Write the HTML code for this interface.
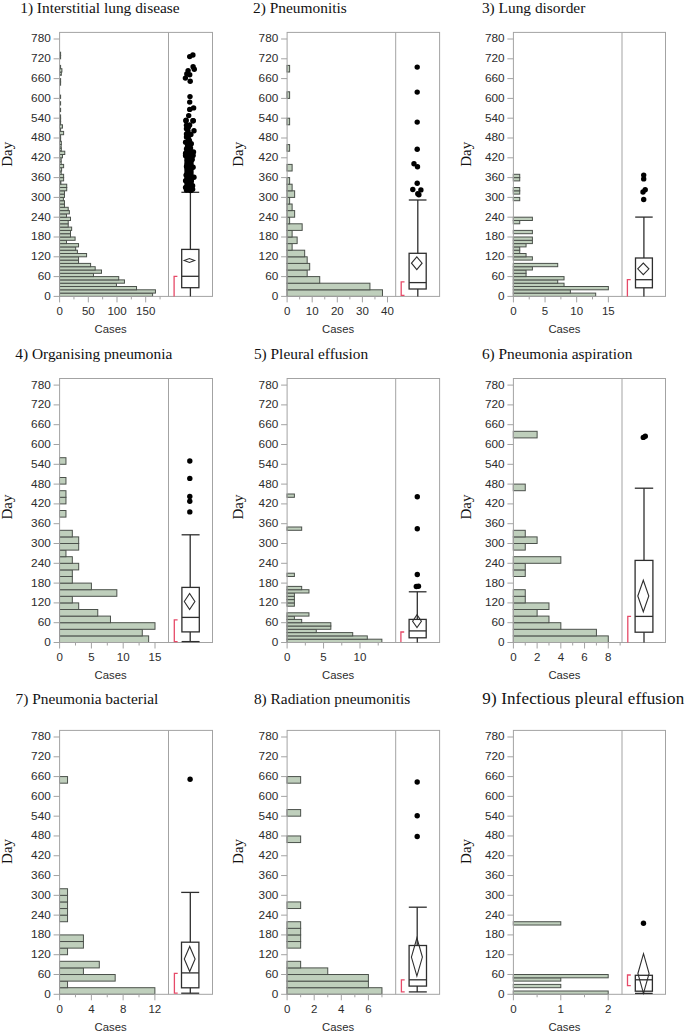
<!DOCTYPE html>
<html><head><meta charset="utf-8"><style>
html,body{margin:0;padding:0;background:#fff;width:685px;height:1034px;overflow:hidden}
svg{display:block}
.bar{fill:#bfcfbc;stroke:#4b514b;stroke-width:1}
.frame{fill:none;stroke:#a3a3a3;stroke-width:1}
.tick{stroke:#a3a3a3;stroke-width:1}
.yl{font-family:"Liberation Sans",sans-serif;font-size:11.8px;fill:#2c2c2c;text-anchor:end}
.xl{font-family:"Liberation Sans",sans-serif;font-size:11.5px;fill:#2c2c2c;text-anchor:middle}
.cases{font-family:"Liberation Sans",sans-serif;font-size:11.3px;fill:#2c2c2c;text-anchor:middle}
.title{font-family:"Liberation Serif",serif;fill:#111}
.day{font-family:"Liberation Serif",serif;font-size:15px;fill:#111;text-anchor:middle}
.bx{fill:none;stroke:#2e2e2e;stroke-width:1.3}
.dm{fill:none;stroke:#2e2e2e;stroke-width:1.1}
.rb{fill:none;stroke:#e64a68;stroke-width:1.3}
.pt{fill:#000}
</style></head><body>
<svg width="685" height="1034" viewBox="0 0 685 1034">
<g><rect x="59.5" y="293.1" width="93.09" height="3.3" class="bar"/><rect x="59.5" y="289.8" width="95.96" height="3.3" class="bar"/><rect x="59.5" y="286.5" width="77.02" height="3.3" class="bar"/><rect x="59.5" y="283.2" width="56.93" height="3.3" class="bar"/><rect x="59.5" y="279.9" width="64.96" height="3.3" class="bar"/><rect x="59.5" y="276.6" width="59.22" height="3.3" class="bar"/><rect x="59.5" y="273.3" width="33.97" height="3.3" class="bar"/><rect x="59.5" y="270" width="42" height="3.3" class="bar"/><rect x="59.5" y="266.7" width="35.69" height="3.3" class="bar"/><rect x="59.5" y="263.4" width="31.1" height="3.3" class="bar"/><rect x="59.5" y="260.1" width="19.04" height="3.3" class="bar"/><rect x="59.5" y="256.8" width="19.04" height="3.3" class="bar"/><rect x="59.5" y="253.5" width="27.08" height="3.3" class="bar"/><rect x="59.5" y="250.2" width="17.89" height="3.3" class="bar"/><rect x="59.5" y="246.9" width="16.17" height="3.3" class="bar"/><rect x="59.5" y="243.6" width="19.04" height="3.3" class="bar"/><rect x="59.5" y="240.3" width="6.99" height="3.3" class="bar"/><rect x="59.5" y="237" width="15.6" height="3.3" class="bar"/><rect x="59.5" y="233.7" width="11.01" height="3.3" class="bar"/><rect x="59.5" y="230.4" width="11.01" height="3.3" class="bar"/><rect x="59.5" y="227.1" width="12.15" height="3.3" class="bar"/><rect x="59.5" y="223.8" width="8.71" height="3.3" class="bar"/><rect x="59.5" y="220.5" width="8.71" height="3.3" class="bar"/><rect x="59.5" y="217.2" width="11.01" height="3.3" class="bar"/><rect x="59.5" y="213.9" width="6.99" height="3.3" class="bar"/><rect x="59.5" y="210.6" width="9.86" height="3.3" class="bar"/><rect x="59.5" y="207.3" width="8.71" height="3.3" class="bar"/><rect x="59.5" y="204" width="4.98" height="3.3" class="bar"/><rect x="59.5" y="200.7" width="4.98" height="3.3" class="bar"/><rect x="59.5" y="197.4" width="3.89" height="3.3" class="bar"/><rect x="59.5" y="194.1" width="4.98" height="3.3" class="bar"/><rect x="59.5" y="190.8" width="4.98" height="3.3" class="bar"/><rect x="59.5" y="187.5" width="7.22" height="3.3" class="bar"/><rect x="59.5" y="184.2" width="7.22" height="3.3" class="bar"/><rect x="60" y="180.9" width="0.86" height="3.3" class="bar"/><rect x="59.5" y="177.6" width="4.12" height="3.3" class="bar"/><rect x="59.5" y="174.3" width="4.12" height="3.3" class="bar"/><rect x="60" y="171" width="1.15" height="3.3" class="bar"/><rect x="59.5" y="167.7" width="2.11" height="3.3" class="bar"/><rect x="59.5" y="164.4" width="4.12" height="3.3" class="bar"/><rect x="60" y="161.1" width="1.15" height="3.3" class="bar"/><rect x="60" y="157.8" width="1.15" height="3.3" class="bar"/><rect x="59.5" y="154.5" width="2.97" height="3.3" class="bar"/><rect x="59.5" y="151.2" width="5.27" height="3.3" class="bar"/><rect x="59.5" y="147.9" width="1.82" height="3.3" class="bar"/><rect x="60" y="144.6" width="1.15" height="3.3" class="bar"/><rect x="59.5" y="141.3" width="1.82" height="3.3" class="bar"/><rect x="60" y="138" width="0.6" height="3.3" class="bar"/><rect x="60" y="134.7" width="0.6" height="3.3" class="bar"/><rect x="59.5" y="131.4" width="4.12" height="3.3" class="bar"/><rect x="60" y="128.1" width="0.6" height="3.3" class="bar"/><rect x="59.5" y="124.8" width="2.97" height="3.3" class="bar"/><rect x="60" y="121.5" width="0.6" height="3.3" class="bar"/><rect x="60" y="118.2" width="0.6" height="3.3" class="bar"/><rect x="60" y="114.9" width="0.6" height="3.3" class="bar"/><rect x="60" y="108.3" width="0.6" height="3.3" class="bar"/><rect x="60" y="101.7" width="0.6" height="3.3" class="bar"/><rect x="60" y="95.1" width="0.6" height="3.3" class="bar"/><rect x="60" y="81.9" width="0.6" height="3.3" class="bar"/><rect x="60" y="78.6" width="0.6" height="3.3" class="bar"/><rect x="59.5" y="72" width="1.82" height="3.3" class="bar"/><rect x="59.5" y="68.7" width="2.4" height="3.3" class="bar"/><rect x="60" y="65.4" width="0.6" height="3.3" class="bar"/><rect x="60" y="55.5" width="0.6" height="3.3" class="bar"/><rect x="60" y="52.2" width="0.6" height="3.3" class="bar"/><rect x="59.6" y="32.4" width="152.9" height="264" class="frame"/><line x1="168.5" y1="32.4" x2="168.5" y2="296.4" class="frame"/><line x1="53.6" y1="296.4" x2="59.6" y2="296.4" class="tick"/><text x="50.8" y="299.8" class="yl">0</text><line x1="53.6" y1="276.6" x2="59.6" y2="276.6" class="tick"/><text x="50.8" y="280" class="yl">60</text><line x1="53.6" y1="256.8" x2="59.6" y2="256.8" class="tick"/><text x="50.8" y="260.2" class="yl">120</text><line x1="53.6" y1="237" x2="59.6" y2="237" class="tick"/><text x="50.8" y="240.4" class="yl">180</text><line x1="53.6" y1="217.2" x2="59.6" y2="217.2" class="tick"/><text x="50.8" y="220.6" class="yl">240</text><line x1="53.6" y1="197.4" x2="59.6" y2="197.4" class="tick"/><text x="50.8" y="200.8" class="yl">300</text><line x1="53.6" y1="177.6" x2="59.6" y2="177.6" class="tick"/><text x="50.8" y="181" class="yl">360</text><line x1="53.6" y1="157.8" x2="59.6" y2="157.8" class="tick"/><text x="50.8" y="161.2" class="yl">420</text><line x1="53.6" y1="138" x2="59.6" y2="138" class="tick"/><text x="50.8" y="141.4" class="yl">480</text><line x1="53.6" y1="118.2" x2="59.6" y2="118.2" class="tick"/><text x="50.8" y="121.6" class="yl">540</text><line x1="53.6" y1="98.4" x2="59.6" y2="98.4" class="tick"/><text x="50.8" y="101.8" class="yl">600</text><line x1="53.6" y1="78.6" x2="59.6" y2="78.6" class="tick"/><text x="50.8" y="82" class="yl">660</text><line x1="53.6" y1="58.8" x2="59.6" y2="58.8" class="tick"/><text x="50.8" y="62.2" class="yl">720</text><line x1="53.6" y1="39" x2="59.6" y2="39" class="tick"/><text x="50.8" y="42.4" class="yl">780</text><line x1="59.6" y1="296.4" x2="59.6" y2="302.4" class="tick"/><text x="59.6" y="314.7" class="xl">0</text><line x1="88.3" y1="296.4" x2="88.3" y2="302.4" class="tick"/><text x="88.3" y="314.7" class="xl">50</text><line x1="117" y1="296.4" x2="117" y2="302.4" class="tick"/><text x="117" y="314.7" class="xl">100</text><line x1="145.7" y1="296.4" x2="145.7" y2="302.4" class="tick"/><text x="145.7" y="314.7" class="xl">150</text><line x1="73.95" y1="296.4" x2="73.95" y2="299.4" class="tick"/><line x1="102.65" y1="296.4" x2="102.65" y2="299.4" class="tick"/><line x1="131.35" y1="296.4" x2="131.35" y2="299.4" class="tick"/><line x1="160.05" y1="296.4" x2="160.05" y2="299.4" class="tick"/><text x="110.6" y="332.8" class="cases">Cases</text><text x="20.2" y="13.4" class="title" style="font-size:15.4px">1) Interstitial lung disease</text><text transform="translate(11.9,154.3) rotate(-90)" class="day">Day</text><line x1="190.4" y1="192.3" x2="190.4" y2="249.4" class="bx"/><line x1="181.4" y1="192.3" x2="199.2" y2="192.3" class="bx"/><line x1="190.4" y1="287.7" x2="190.4" y2="296.4" class="bx"/><rect x="181.7" y="249.4" width="17.2" height="38.3" class="bx"/><line x1="181.7" y1="276.3" x2="198.9" y2="276.3" class="bx"/><path d="M184.2 260.5L189.4 258.5L194.6 260.5L189.4 262.5Z" class="dm"/><path d="M177.4 276.4H174.1V296.4" class="rb"/><circle cx="189.7" cy="56.6" r="2.7" class="pt"/><circle cx="192.9" cy="55" r="2.7" class="pt"/><circle cx="193.1" cy="66.8" r="2.7" class="pt"/><circle cx="194.3" cy="69.2" r="2.7" class="pt"/><circle cx="188.1" cy="70.6" r="2.7" class="pt"/><circle cx="186.8" cy="74" r="2.7" class="pt"/><circle cx="189.7" cy="74.7" r="2.7" class="pt"/><circle cx="185.4" cy="78.1" r="2.7" class="pt"/><circle cx="190.2" cy="81.3" r="2.7" class="pt"/><circle cx="190" cy="96.6" r="2.7" class="pt"/><circle cx="189.7" cy="102.1" r="2.7" class="pt"/><circle cx="189.7" cy="109.4" r="2.7" class="pt"/><circle cx="193.6" cy="107.9" r="2.7" class="pt"/><circle cx="188.7" cy="115.6" r="2.7" class="pt"/><circle cx="186.1" cy="120.2" r="2.7" class="pt"/><circle cx="192.9" cy="120.7" r="2.7" class="pt"/><circle cx="185.9" cy="120.7" r="2.7" class="pt"/><circle cx="193.3" cy="120.7" r="2.7" class="pt"/><circle cx="186.5" cy="125.3" r="2.7" class="pt"/><circle cx="189.6" cy="125" r="2.7" class="pt"/><circle cx="186.5" cy="128.8" r="2.7" class="pt"/><circle cx="194" cy="130.7" r="2.7" class="pt"/><circle cx="186.5" cy="134" r="2.7" class="pt"/><circle cx="190.9" cy="134.5" r="2.7" class="pt"/><circle cx="188.7" cy="139.3" r="2.7" class="pt"/><circle cx="185.6" cy="142.3" r="2.7" class="pt"/><circle cx="191.3" cy="143.7" r="2.7" class="pt"/><circle cx="187.8" cy="145.4" r="2.7" class="pt"/><circle cx="186.5" cy="148.9" r="2.7" class="pt"/><circle cx="190.5" cy="148" r="2.7" class="pt"/><circle cx="193.5" cy="152" r="2.7" class="pt"/><circle cx="185.6" cy="153.3" r="2.7" class="pt"/><circle cx="189.1" cy="153.3" r="2.7" class="pt"/><circle cx="185.6" cy="155" r="2.7" class="pt"/><circle cx="192.2" cy="155.2" r="2.7" class="pt"/><circle cx="187" cy="155.9" r="2.7" class="pt"/><circle cx="185.6" cy="155.7" r="2.7" class="pt"/><circle cx="193.1" cy="155.4" r="2.7" class="pt"/><circle cx="192.2" cy="159.4" r="2.7" class="pt"/><circle cx="190.5" cy="161.6" r="2.7" class="pt"/><circle cx="186.5" cy="166.4" r="2.7" class="pt"/><circle cx="193.1" cy="167.3" r="2.7" class="pt"/><circle cx="190" cy="169.5" r="2.7" class="pt"/><circle cx="189.6" cy="172.5" r="2.7" class="pt"/><circle cx="186.1" cy="175.1" r="2.7" class="pt"/><circle cx="194" cy="177.3" r="2.7" class="pt"/><circle cx="189.1" cy="176.9" r="2.7" class="pt"/><circle cx="185.6" cy="180.8" r="2.7" class="pt"/><circle cx="191.3" cy="180.8" r="2.7" class="pt"/><circle cx="192.6" cy="185.7" r="2.7" class="pt"/><circle cx="185.6" cy="187.4" r="2.7" class="pt"/><circle cx="189.1" cy="188.3" r="2.7" class="pt"/><circle cx="192.6" cy="189.2" r="2.7" class="pt"/><circle cx="186.5" cy="190" r="2.7" class="pt"/><circle cx="189.5" cy="185" r="2.7" class="pt"/><circle cx="188.5" cy="182" r="2.7" class="pt"/><circle cx="188" cy="164" r="2.7" class="pt"/><circle cx="189" cy="178.5" r="2.7" class="pt"/><circle cx="190" cy="150.5" r="2.7" class="pt"/><circle cx="188" cy="131" r="2.7" class="pt"/><circle cx="186.5" cy="137" r="2.7" class="pt"/><circle cx="188.5" cy="189.5" r="2.7" class="pt"/><circle cx="190.5" cy="190.5" r="2.7" class="pt"/><circle cx="187" cy="158" r="2.7" class="pt"/><circle cx="191" cy="159.1" r="2.7" class="pt"/><circle cx="187" cy="160.6" r="2.7" class="pt"/><circle cx="191" cy="161.7" r="2.7" class="pt"/><circle cx="187" cy="163.2" r="2.7" class="pt"/><circle cx="191" cy="164.3" r="2.7" class="pt"/><circle cx="187" cy="165.8" r="2.7" class="pt"/><circle cx="191" cy="166.9" r="2.7" class="pt"/><circle cx="187" cy="168.4" r="2.7" class="pt"/><circle cx="191" cy="169.5" r="2.7" class="pt"/><circle cx="187" cy="171" r="2.7" class="pt"/><circle cx="191" cy="172.1" r="2.7" class="pt"/><circle cx="187" cy="173.6" r="2.7" class="pt"/><circle cx="191" cy="174.7" r="2.7" class="pt"/><circle cx="187" cy="176.2" r="2.7" class="pt"/><circle cx="191" cy="177.3" r="2.7" class="pt"/><circle cx="187" cy="178.8" r="2.7" class="pt"/><circle cx="191" cy="179.9" r="2.7" class="pt"/><circle cx="187" cy="181.4" r="2.7" class="pt"/><circle cx="191" cy="182.5" r="2.7" class="pt"/><circle cx="187" cy="184" r="2.7" class="pt"/><circle cx="191" cy="185.1" r="2.7" class="pt"/><circle cx="187" cy="186.6" r="2.7" class="pt"/><circle cx="191" cy="187.7" r="2.7" class="pt"/><circle cx="187" cy="189.2" r="2.7" class="pt"/><circle cx="191" cy="190.3" r="2.7" class="pt"/><circle cx="188.5" cy="127" r="2.7" class="pt"/><circle cx="188" cy="136.5" r="2.7" class="pt"/><circle cx="189.5" cy="141" r="2.7" class="pt"/><circle cx="188.5" cy="150.5" r="2.7" class="pt"/><circle cx="187.5" cy="146.5" r="2.7" class="pt"/><circle cx="191.5" cy="152.5" r="2.7" class="pt"/><circle cx="187.5" cy="160.5" r="2.7" class="pt"/><circle cx="188.5" cy="157.5" r="2.7" class="pt"/></g>
<g><rect x="287" y="289.8" width="95.48" height="6.6" class="bar"/><rect x="287" y="283.2" width="82.93" height="6.6" class="bar"/><rect x="287" y="276.6" width="32.73" height="6.6" class="bar"/><rect x="287" y="270" width="20.18" height="6.6" class="bar"/><rect x="287" y="263.4" width="22.69" height="6.6" class="bar"/><rect x="287" y="256.8" width="20.18" height="6.6" class="bar"/><rect x="287" y="250.2" width="17.67" height="6.6" class="bar"/><rect x="287" y="243.6" width="5.12" height="6.6" class="bar"/><rect x="287" y="237" width="10.14" height="6.6" class="bar"/><rect x="287" y="230.4" width="5.12" height="6.6" class="bar"/><rect x="287" y="223.8" width="15.16" height="6.6" class="bar"/><rect x="287" y="217.2" width="2.61" height="6.6" class="bar"/><rect x="287" y="210.6" width="7.63" height="6.6" class="bar"/><rect x="287" y="204" width="5.12" height="6.6" class="bar"/><rect x="287" y="197.4" width="2.61" height="6.6" class="bar"/><rect x="287" y="190.8" width="7.63" height="6.6" class="bar"/><rect x="287" y="184.2" width="5.12" height="6.6" class="bar"/><rect x="287" y="177.6" width="2.61" height="6.6" class="bar"/><rect x="287" y="164.4" width="5.12" height="6.6" class="bar"/><rect x="287" y="144.6" width="2.61" height="6.6" class="bar"/><rect x="287" y="118.2" width="2.61" height="6.6" class="bar"/><rect x="287" y="91.8" width="2.61" height="6.6" class="bar"/><rect x="287" y="65.4" width="2.61" height="6.6" class="bar"/><rect x="287.1" y="32.4" width="152.5" height="264" class="frame"/><line x1="395.7" y1="32.4" x2="395.7" y2="296.4" class="frame"/><line x1="281.1" y1="296.4" x2="287.1" y2="296.4" class="tick"/><text x="278.3" y="299.8" class="yl">0</text><line x1="281.1" y1="276.6" x2="287.1" y2="276.6" class="tick"/><text x="278.3" y="280" class="yl">60</text><line x1="281.1" y1="256.8" x2="287.1" y2="256.8" class="tick"/><text x="278.3" y="260.2" class="yl">120</text><line x1="281.1" y1="237" x2="287.1" y2="237" class="tick"/><text x="278.3" y="240.4" class="yl">180</text><line x1="281.1" y1="217.2" x2="287.1" y2="217.2" class="tick"/><text x="278.3" y="220.6" class="yl">240</text><line x1="281.1" y1="197.4" x2="287.1" y2="197.4" class="tick"/><text x="278.3" y="200.8" class="yl">300</text><line x1="281.1" y1="177.6" x2="287.1" y2="177.6" class="tick"/><text x="278.3" y="181" class="yl">360</text><line x1="281.1" y1="157.8" x2="287.1" y2="157.8" class="tick"/><text x="278.3" y="161.2" class="yl">420</text><line x1="281.1" y1="138" x2="287.1" y2="138" class="tick"/><text x="278.3" y="141.4" class="yl">480</text><line x1="281.1" y1="118.2" x2="287.1" y2="118.2" class="tick"/><text x="278.3" y="121.6" class="yl">540</text><line x1="281.1" y1="98.4" x2="287.1" y2="98.4" class="tick"/><text x="278.3" y="101.8" class="yl">600</text><line x1="281.1" y1="78.6" x2="287.1" y2="78.6" class="tick"/><text x="278.3" y="82" class="yl">660</text><line x1="281.1" y1="58.8" x2="287.1" y2="58.8" class="tick"/><text x="278.3" y="62.2" class="yl">720</text><line x1="281.1" y1="39" x2="287.1" y2="39" class="tick"/><text x="278.3" y="42.4" class="yl">780</text><line x1="287.1" y1="296.4" x2="287.1" y2="302.4" class="tick"/><text x="287.1" y="314.7" class="xl">0</text><line x1="312.2" y1="296.4" x2="312.2" y2="302.4" class="tick"/><text x="312.2" y="314.7" class="xl">10</text><line x1="337.3" y1="296.4" x2="337.3" y2="302.4" class="tick"/><text x="337.3" y="314.7" class="xl">20</text><line x1="362.4" y1="296.4" x2="362.4" y2="302.4" class="tick"/><text x="362.4" y="314.7" class="xl">30</text><line x1="387.5" y1="296.4" x2="387.5" y2="302.4" class="tick"/><text x="387.5" y="314.7" class="xl">40</text><line x1="299.65" y1="296.4" x2="299.65" y2="299.4" class="tick"/><line x1="324.75" y1="296.4" x2="324.75" y2="299.4" class="tick"/><line x1="349.85" y1="296.4" x2="349.85" y2="299.4" class="tick"/><line x1="374.95" y1="296.4" x2="374.95" y2="299.4" class="tick"/><text x="338.1" y="332.8" class="cases">Cases</text><text x="253.1" y="13.4" class="title" style="font-size:15.4px">2) Pneumonitis</text><text transform="translate(242.9,154.3) rotate(-90)" class="day">Day</text><line x1="417.8" y1="200" x2="417.8" y2="253.3" class="bx"/><line x1="408.8" y1="200" x2="426.5" y2="200" class="bx"/><line x1="417.8" y1="289" x2="417.8" y2="296.4" class="bx"/><rect x="409.1" y="253.3" width="17.1" height="35.7" class="bx"/><line x1="409.1" y1="282.6" x2="426.2" y2="282.6" class="bx"/><path d="M411.5 263.2L416.8 256.8L422.1 263.2L416.8 269.6Z" class="dm"/><path d="M404.5 281.8H401.2V295.4H404.5" class="rb"/><circle cx="417.2" cy="67.1" r="2.7" class="pt"/><circle cx="417.2" cy="92.1" r="2.7" class="pt"/><circle cx="417.2" cy="122.1" r="2.7" class="pt"/><circle cx="417.2" cy="149.3" r="2.7" class="pt"/><circle cx="414" cy="163.8" r="2.7" class="pt"/><circle cx="417.5" cy="166.7" r="2.7" class="pt"/><circle cx="417.2" cy="183.2" r="2.7" class="pt"/><circle cx="412.8" cy="189.5" r="2.7" class="pt"/><circle cx="420.9" cy="189.9" r="2.7" class="pt"/><circle cx="417.8" cy="193.7" r="2.7" class="pt"/><circle cx="418.9" cy="194.8" r="2.7" class="pt"/></g>
<g><rect x="513.3" y="293.1" width="82.39" height="3.3" class="bar"/><rect x="513.3" y="289.8" width="57.07" height="3.3" class="bar"/><rect x="513.3" y="286.5" width="95.05" height="3.3" class="bar"/><rect x="513.3" y="283.2" width="50.74" height="3.3" class="bar"/><rect x="513.3" y="279.9" width="44.41" height="3.3" class="bar"/><rect x="513.3" y="276.6" width="50.74" height="3.3" class="bar"/><rect x="513.3" y="273.3" width="12.76" height="3.3" class="bar"/><rect x="513.3" y="270" width="12.76" height="3.3" class="bar"/><rect x="513.3" y="266.7" width="19.09" height="3.3" class="bar"/><rect x="513.3" y="263.4" width="44.41" height="3.3" class="bar"/><rect x="513.3" y="256.8" width="19.09" height="3.3" class="bar"/><rect x="513.3" y="253.5" width="12.76" height="3.3" class="bar"/><rect x="513.3" y="250.2" width="6.43" height="3.3" class="bar"/><rect x="513.3" y="246.9" width="6.43" height="3.3" class="bar"/><rect x="513.3" y="243.6" width="12.76" height="3.3" class="bar"/><rect x="513.3" y="240.3" width="19.09" height="3.3" class="bar"/><rect x="513.3" y="237" width="19.09" height="3.3" class="bar"/><rect x="513.3" y="230.4" width="19.09" height="3.3" class="bar"/><rect x="513.3" y="220.5" width="6.43" height="3.3" class="bar"/><rect x="513.3" y="217.2" width="19.09" height="3.3" class="bar"/><rect x="513.3" y="197.4" width="6.43" height="3.3" class="bar"/><rect x="513.3" y="190.8" width="6.43" height="3.3" class="bar"/><rect x="513.3" y="187.5" width="6.43" height="3.3" class="bar"/><rect x="513.3" y="177.6" width="6.43" height="3.3" class="bar"/><rect x="513.3" y="174.3" width="6.43" height="3.3" class="bar"/><rect x="513.4" y="32.4" width="152.1" height="264" class="frame"/><line x1="622" y1="32.4" x2="622" y2="296.4" class="frame"/><line x1="507.4" y1="296.4" x2="513.4" y2="296.4" class="tick"/><text x="504.6" y="299.8" class="yl">0</text><line x1="507.4" y1="276.6" x2="513.4" y2="276.6" class="tick"/><text x="504.6" y="280" class="yl">60</text><line x1="507.4" y1="256.8" x2="513.4" y2="256.8" class="tick"/><text x="504.6" y="260.2" class="yl">120</text><line x1="507.4" y1="237" x2="513.4" y2="237" class="tick"/><text x="504.6" y="240.4" class="yl">180</text><line x1="507.4" y1="217.2" x2="513.4" y2="217.2" class="tick"/><text x="504.6" y="220.6" class="yl">240</text><line x1="507.4" y1="197.4" x2="513.4" y2="197.4" class="tick"/><text x="504.6" y="200.8" class="yl">300</text><line x1="507.4" y1="177.6" x2="513.4" y2="177.6" class="tick"/><text x="504.6" y="181" class="yl">360</text><line x1="507.4" y1="157.8" x2="513.4" y2="157.8" class="tick"/><text x="504.6" y="161.2" class="yl">420</text><line x1="507.4" y1="138" x2="513.4" y2="138" class="tick"/><text x="504.6" y="141.4" class="yl">480</text><line x1="507.4" y1="118.2" x2="513.4" y2="118.2" class="tick"/><text x="504.6" y="121.6" class="yl">540</text><line x1="507.4" y1="98.4" x2="513.4" y2="98.4" class="tick"/><text x="504.6" y="101.8" class="yl">600</text><line x1="507.4" y1="78.6" x2="513.4" y2="78.6" class="tick"/><text x="504.6" y="82" class="yl">660</text><line x1="507.4" y1="58.8" x2="513.4" y2="58.8" class="tick"/><text x="504.6" y="62.2" class="yl">720</text><line x1="507.4" y1="39" x2="513.4" y2="39" class="tick"/><text x="504.6" y="42.4" class="yl">780</text><line x1="513.4" y1="296.4" x2="513.4" y2="302.4" class="tick"/><text x="513.4" y="314.7" class="xl">0</text><line x1="545.05" y1="296.4" x2="545.05" y2="302.4" class="tick"/><text x="545.05" y="314.7" class="xl">5</text><line x1="576.7" y1="296.4" x2="576.7" y2="302.4" class="tick"/><text x="576.7" y="314.7" class="xl">10</text><line x1="608.35" y1="296.4" x2="608.35" y2="302.4" class="tick"/><text x="608.35" y="314.7" class="xl">15</text><line x1="529.23" y1="296.4" x2="529.23" y2="299.4" class="tick"/><line x1="560.88" y1="296.4" x2="560.88" y2="299.4" class="tick"/><line x1="592.52" y1="296.4" x2="592.52" y2="299.4" class="tick"/><text x="564.4" y="332.8" class="cases">Cases</text><text x="481.9" y="13.4" class="title" style="font-size:15.4px">3) Lung disorder</text><text transform="translate(471.2,154.3) rotate(-90)" class="day">Day</text><line x1="643.9" y1="217.1" x2="643.9" y2="258" class="bx"/><line x1="635.2" y1="217.1" x2="652.7" y2="217.1" class="bx"/><line x1="643.9" y1="287.8" x2="643.9" y2="296.4" class="bx"/><rect x="635.5" y="258" width="16.9" height="29.8" class="bx"/><line x1="635.5" y1="279.7" x2="652.4" y2="279.7" class="bx"/><path d="M637.7 268.8L643.3 263L648.9 268.8L643.3 274.6Z" class="dm"/><path d="M630.7 279.7H627.4V296.4" class="rb"/><circle cx="643.7" cy="175.1" r="2.7" class="pt"/><circle cx="643.7" cy="178.9" r="2.7" class="pt"/><circle cx="645.2" cy="189.8" r="2.7" class="pt"/><circle cx="643" cy="192" r="2.7" class="pt"/><circle cx="643.7" cy="199.5" r="2.7" class="pt"/></g>
<g><rect x="59.5" y="635.9" width="89.14" height="6.6" class="bar"/><rect x="59.5" y="629.3" width="82.78" height="6.6" class="bar"/><rect x="59.5" y="622.7" width="95.5" height="6.6" class="bar"/><rect x="59.5" y="616.1" width="50.98" height="6.6" class="bar"/><rect x="59.5" y="609.5" width="38.26" height="6.6" class="bar"/><rect x="59.5" y="602.9" width="19.18" height="6.6" class="bar"/><rect x="59.5" y="596.3" width="12.82" height="6.6" class="bar"/><rect x="59.5" y="589.7" width="57.34" height="6.6" class="bar"/><rect x="59.5" y="583.1" width="31.9" height="6.6" class="bar"/><rect x="59.5" y="576.5" width="12.82" height="6.6" class="bar"/><rect x="59.5" y="569.9" width="12.82" height="6.6" class="bar"/><rect x="59.5" y="563.3" width="19.18" height="6.6" class="bar"/><rect x="59.5" y="556.7" width="12.82" height="6.6" class="bar"/><rect x="59.5" y="550.1" width="6.46" height="6.6" class="bar"/><rect x="59.5" y="543.5" width="19.18" height="6.6" class="bar"/><rect x="59.5" y="536.9" width="19.18" height="6.6" class="bar"/><rect x="59.5" y="530.3" width="12.82" height="6.6" class="bar"/><rect x="59.5" y="510.5" width="6.46" height="6.6" class="bar"/><rect x="59.5" y="497.3" width="6.46" height="6.6" class="bar"/><rect x="59.5" y="490.7" width="6.46" height="6.6" class="bar"/><rect x="59.5" y="477.5" width="6.46" height="6.6" class="bar"/><rect x="59.5" y="457.7" width="6.46" height="6.6" class="bar"/><rect x="59.6" y="378.5" width="152.9" height="264" class="frame"/><line x1="168.5" y1="378.5" x2="168.5" y2="642.5" class="frame"/><line x1="53.6" y1="642.5" x2="59.6" y2="642.5" class="tick"/><text x="50.8" y="645.9" class="yl">0</text><line x1="53.6" y1="622.7" x2="59.6" y2="622.7" class="tick"/><text x="50.8" y="626.1" class="yl">60</text><line x1="53.6" y1="602.9" x2="59.6" y2="602.9" class="tick"/><text x="50.8" y="606.3" class="yl">120</text><line x1="53.6" y1="583.1" x2="59.6" y2="583.1" class="tick"/><text x="50.8" y="586.5" class="yl">180</text><line x1="53.6" y1="563.3" x2="59.6" y2="563.3" class="tick"/><text x="50.8" y="566.7" class="yl">240</text><line x1="53.6" y1="543.5" x2="59.6" y2="543.5" class="tick"/><text x="50.8" y="546.9" class="yl">300</text><line x1="53.6" y1="523.7" x2="59.6" y2="523.7" class="tick"/><text x="50.8" y="527.1" class="yl">360</text><line x1="53.6" y1="503.9" x2="59.6" y2="503.9" class="tick"/><text x="50.8" y="507.3" class="yl">420</text><line x1="53.6" y1="484.1" x2="59.6" y2="484.1" class="tick"/><text x="50.8" y="487.5" class="yl">480</text><line x1="53.6" y1="464.3" x2="59.6" y2="464.3" class="tick"/><text x="50.8" y="467.7" class="yl">540</text><line x1="53.6" y1="444.5" x2="59.6" y2="444.5" class="tick"/><text x="50.8" y="447.9" class="yl">600</text><line x1="53.6" y1="424.7" x2="59.6" y2="424.7" class="tick"/><text x="50.8" y="428.1" class="yl">660</text><line x1="53.6" y1="404.9" x2="59.6" y2="404.9" class="tick"/><text x="50.8" y="408.3" class="yl">720</text><line x1="53.6" y1="385.1" x2="59.6" y2="385.1" class="tick"/><text x="50.8" y="388.5" class="yl">780</text><line x1="59.6" y1="642.5" x2="59.6" y2="648.5" class="tick"/><text x="59.6" y="660.8" class="xl">0</text><line x1="91.4" y1="642.5" x2="91.4" y2="648.5" class="tick"/><text x="91.4" y="660.8" class="xl">5</text><line x1="123.2" y1="642.5" x2="123.2" y2="648.5" class="tick"/><text x="123.2" y="660.8" class="xl">10</text><line x1="155" y1="642.5" x2="155" y2="648.5" class="tick"/><text x="155" y="660.8" class="xl">15</text><line x1="75.5" y1="642.5" x2="75.5" y2="645.5" class="tick"/><line x1="107.3" y1="642.5" x2="107.3" y2="645.5" class="tick"/><line x1="139.1" y1="642.5" x2="139.1" y2="645.5" class="tick"/><text x="110.6" y="678.9" class="cases">Cases</text><text x="15.3" y="358.5" class="title" style="font-size:15.4px">4) Organising pneumonia</text><text transform="translate(11.9,507) rotate(-90)" class="day">Day</text><line x1="190.2" y1="534.8" x2="190.2" y2="587.4" class="bx"/><line x1="181.6" y1="534.8" x2="199.6" y2="534.8" class="bx"/><line x1="190.2" y1="631.9" x2="190.2" y2="641.6" class="bx"/><line x1="181.6" y1="641.6" x2="199.6" y2="641.6" class="bx"/><rect x="181.9" y="587.4" width="17.4" height="44.5" class="bx"/><line x1="181.9" y1="617.4" x2="199.3" y2="617.4" class="bx"/><path d="M184.3 601.5L189.6 593.5L194.9 601.5L189.6 609.5Z" class="dm"/><path d="M177.6 619.9H174.3V641.6H177.6" class="rb"/><circle cx="189.8" cy="461" r="2.7" class="pt"/><circle cx="189.8" cy="478.4" r="2.7" class="pt"/><circle cx="189.8" cy="496.4" r="2.7" class="pt"/><circle cx="189.8" cy="501.3" r="2.7" class="pt"/><circle cx="189.8" cy="511.9" r="2.7" class="pt"/></g>
<g><rect x="287" y="639.2" width="94.87" height="3.3" class="bar"/><rect x="287" y="635.9" width="80.29" height="3.3" class="bar"/><rect x="287" y="632.6" width="65.71" height="3.3" class="bar"/><rect x="287" y="629.3" width="29.26" height="3.3" class="bar"/><rect x="287" y="626" width="43.84" height="3.3" class="bar"/><rect x="287" y="622.7" width="43.84" height="3.3" class="bar"/><rect x="287" y="619.4" width="14.68" height="3.3" class="bar"/><rect x="287" y="616.1" width="7.39" height="3.3" class="bar"/><rect x="287" y="612.8" width="21.97" height="3.3" class="bar"/><rect x="287" y="602.9" width="7.39" height="3.3" class="bar"/><rect x="287" y="599.6" width="7.39" height="3.3" class="bar"/><rect x="287" y="596.3" width="7.39" height="3.3" class="bar"/><rect x="287" y="593" width="7.39" height="3.3" class="bar"/><rect x="287" y="589.7" width="21.97" height="3.3" class="bar"/><rect x="287" y="586.4" width="14.68" height="3.3" class="bar"/><rect x="287" y="573.2" width="7.39" height="3.3" class="bar"/><rect x="287" y="527" width="14.68" height="3.3" class="bar"/><rect x="287" y="494" width="7.39" height="3.3" class="bar"/><rect x="287.1" y="378.5" width="152.5" height="264" class="frame"/><line x1="395.7" y1="378.5" x2="395.7" y2="642.5" class="frame"/><line x1="281.1" y1="642.5" x2="287.1" y2="642.5" class="tick"/><text x="278.3" y="645.9" class="yl">0</text><line x1="281.1" y1="622.7" x2="287.1" y2="622.7" class="tick"/><text x="278.3" y="626.1" class="yl">60</text><line x1="281.1" y1="602.9" x2="287.1" y2="602.9" class="tick"/><text x="278.3" y="606.3" class="yl">120</text><line x1="281.1" y1="583.1" x2="287.1" y2="583.1" class="tick"/><text x="278.3" y="586.5" class="yl">180</text><line x1="281.1" y1="563.3" x2="287.1" y2="563.3" class="tick"/><text x="278.3" y="566.7" class="yl">240</text><line x1="281.1" y1="543.5" x2="287.1" y2="543.5" class="tick"/><text x="278.3" y="546.9" class="yl">300</text><line x1="281.1" y1="523.7" x2="287.1" y2="523.7" class="tick"/><text x="278.3" y="527.1" class="yl">360</text><line x1="281.1" y1="503.9" x2="287.1" y2="503.9" class="tick"/><text x="278.3" y="507.3" class="yl">420</text><line x1="281.1" y1="484.1" x2="287.1" y2="484.1" class="tick"/><text x="278.3" y="487.5" class="yl">480</text><line x1="281.1" y1="464.3" x2="287.1" y2="464.3" class="tick"/><text x="278.3" y="467.7" class="yl">540</text><line x1="281.1" y1="444.5" x2="287.1" y2="444.5" class="tick"/><text x="278.3" y="447.9" class="yl">600</text><line x1="281.1" y1="424.7" x2="287.1" y2="424.7" class="tick"/><text x="278.3" y="428.1" class="yl">660</text><line x1="281.1" y1="404.9" x2="287.1" y2="404.9" class="tick"/><text x="278.3" y="408.3" class="yl">720</text><line x1="281.1" y1="385.1" x2="287.1" y2="385.1" class="tick"/><text x="278.3" y="388.5" class="yl">780</text><line x1="287.1" y1="642.5" x2="287.1" y2="648.5" class="tick"/><text x="287.1" y="660.8" class="xl">0</text><line x1="323.55" y1="642.5" x2="323.55" y2="648.5" class="tick"/><text x="323.55" y="660.8" class="xl">5</text><line x1="360" y1="642.5" x2="360" y2="648.5" class="tick"/><text x="360" y="660.8" class="xl">10</text><line x1="305.33" y1="642.5" x2="305.33" y2="645.5" class="tick"/><line x1="341.78" y1="642.5" x2="341.78" y2="645.5" class="tick"/><line x1="378.23" y1="642.5" x2="378.23" y2="645.5" class="tick"/><text x="338.1" y="678.9" class="cases">Cases</text><text x="253.9" y="358.5" class="title" style="font-size:15.4px">5) Pleural effusion</text><text transform="translate(242.9,507) rotate(-90)" class="day">Day</text><line x1="417.3" y1="591.8" x2="417.3" y2="619.4" class="bx"/><line x1="408.8" y1="591.8" x2="426.5" y2="591.8" class="bx"/><line x1="417.3" y1="637.8" x2="417.3" y2="642.5" class="bx"/><rect x="409.1" y="619.4" width="17.1" height="18.4" class="bx"/><line x1="409.1" y1="630.9" x2="426.2" y2="630.9" class="bx"/><path d="M412.6 621.2L417 614.8L421.4 621.2L417 627.6Z" class="dm"/><path d="M404.2 632H400.9V641.9" class="rb"/><circle cx="417.3" cy="496.8" r="2.7" class="pt"/><circle cx="417.3" cy="528.8" r="2.7" class="pt"/><circle cx="417.3" cy="574.5" r="2.7" class="pt"/><circle cx="416.3" cy="586.5" r="2.7" class="pt"/><circle cx="418.5" cy="586.3" r="2.7" class="pt"/></g>
<g><rect x="513.3" y="635.9" width="94.98" height="6.6" class="bar"/><rect x="513.3" y="629.3" width="83.12" height="6.6" class="bar"/><rect x="513.3" y="622.7" width="47.54" height="6.6" class="bar"/><rect x="513.3" y="616.1" width="35.68" height="6.6" class="bar"/><rect x="513.3" y="609.5" width="23.82" height="6.6" class="bar"/><rect x="513.3" y="602.9" width="35.68" height="6.6" class="bar"/><rect x="513.3" y="596.3" width="11.96" height="6.6" class="bar"/><rect x="513.3" y="589.7" width="11.96" height="6.6" class="bar"/><rect x="513.3" y="569.9" width="11.96" height="6.6" class="bar"/><rect x="513.3" y="563.3" width="11.96" height="6.6" class="bar"/><rect x="513.3" y="556.7" width="47.54" height="6.6" class="bar"/><rect x="513.3" y="543.5" width="11.96" height="6.6" class="bar"/><rect x="513.3" y="536.9" width="23.82" height="6.6" class="bar"/><rect x="513.3" y="530.3" width="11.96" height="6.6" class="bar"/><rect x="513.3" y="484.1" width="11.96" height="6.6" class="bar"/><rect x="513.3" y="431.3" width="23.82" height="6.6" class="bar"/><rect x="513.4" y="378.5" width="152.1" height="264" class="frame"/><line x1="622" y1="378.5" x2="622" y2="642.5" class="frame"/><line x1="507.4" y1="642.5" x2="513.4" y2="642.5" class="tick"/><text x="504.6" y="645.9" class="yl">0</text><line x1="507.4" y1="622.7" x2="513.4" y2="622.7" class="tick"/><text x="504.6" y="626.1" class="yl">60</text><line x1="507.4" y1="602.9" x2="513.4" y2="602.9" class="tick"/><text x="504.6" y="606.3" class="yl">120</text><line x1="507.4" y1="583.1" x2="513.4" y2="583.1" class="tick"/><text x="504.6" y="586.5" class="yl">180</text><line x1="507.4" y1="563.3" x2="513.4" y2="563.3" class="tick"/><text x="504.6" y="566.7" class="yl">240</text><line x1="507.4" y1="543.5" x2="513.4" y2="543.5" class="tick"/><text x="504.6" y="546.9" class="yl">300</text><line x1="507.4" y1="523.7" x2="513.4" y2="523.7" class="tick"/><text x="504.6" y="527.1" class="yl">360</text><line x1="507.4" y1="503.9" x2="513.4" y2="503.9" class="tick"/><text x="504.6" y="507.3" class="yl">420</text><line x1="507.4" y1="484.1" x2="513.4" y2="484.1" class="tick"/><text x="504.6" y="487.5" class="yl">480</text><line x1="507.4" y1="464.3" x2="513.4" y2="464.3" class="tick"/><text x="504.6" y="467.7" class="yl">540</text><line x1="507.4" y1="444.5" x2="513.4" y2="444.5" class="tick"/><text x="504.6" y="447.9" class="yl">600</text><line x1="507.4" y1="424.7" x2="513.4" y2="424.7" class="tick"/><text x="504.6" y="428.1" class="yl">660</text><line x1="507.4" y1="404.9" x2="513.4" y2="404.9" class="tick"/><text x="504.6" y="408.3" class="yl">720</text><line x1="507.4" y1="385.1" x2="513.4" y2="385.1" class="tick"/><text x="504.6" y="388.5" class="yl">780</text><line x1="513.4" y1="642.5" x2="513.4" y2="648.5" class="tick"/><text x="513.4" y="660.8" class="xl">0</text><line x1="537.12" y1="642.5" x2="537.12" y2="648.5" class="tick"/><text x="537.12" y="660.8" class="xl">2</text><line x1="560.84" y1="642.5" x2="560.84" y2="648.5" class="tick"/><text x="560.84" y="660.8" class="xl">4</text><line x1="584.56" y1="642.5" x2="584.56" y2="648.5" class="tick"/><text x="584.56" y="660.8" class="xl">6</text><line x1="608.28" y1="642.5" x2="608.28" y2="648.5" class="tick"/><text x="608.28" y="660.8" class="xl">8</text><line x1="525.26" y1="642.5" x2="525.26" y2="645.5" class="tick"/><line x1="548.98" y1="642.5" x2="548.98" y2="645.5" class="tick"/><line x1="572.7" y1="642.5" x2="572.7" y2="645.5" class="tick"/><line x1="596.42" y1="642.5" x2="596.42" y2="645.5" class="tick"/><line x1="620.14" y1="642.5" x2="620.14" y2="645.5" class="tick"/><text x="564.4" y="678.9" class="cases">Cases</text><text x="481.9" y="358.5" class="title" style="font-size:15.4px">6) Pneumonia aspiration</text><text transform="translate(471.2,507) rotate(-90)" class="day">Day</text><line x1="644" y1="488.2" x2="644" y2="560.4" class="bx"/><line x1="634.8" y1="488.2" x2="653.2" y2="488.2" class="bx"/><line x1="644" y1="632.2" x2="644" y2="642.5" class="bx"/><rect x="635.1" y="560.4" width="17.8" height="71.8" class="bx"/><line x1="635.1" y1="616.4" x2="652.9" y2="616.4" class="bx"/><path d="M637.8 596L643.3 580.2L648.8 596L643.3 611.8Z" class="dm"/><path d="M631.1 616.4H627.8V642.5" class="rb"/><circle cx="643.3" cy="437.4" r="2.7" class="pt"/><circle cx="645.3" cy="436.2" r="2.7" class="pt"/></g>
<g><rect x="59.5" y="987.7" width="95.38" height="6.6" class="bar"/><rect x="59.5" y="981.1" width="8.04" height="6.6" class="bar"/><rect x="59.5" y="974.51" width="55.68" height="6.6" class="bar"/><rect x="59.5" y="967.91" width="23.92" height="6.6" class="bar"/><rect x="59.5" y="961.31" width="39.8" height="6.6" class="bar"/><rect x="59.5" y="948.12" width="8.04" height="6.6" class="bar"/><rect x="59.5" y="941.52" width="23.92" height="6.6" class="bar"/><rect x="59.5" y="934.92" width="23.92" height="6.6" class="bar"/><rect x="59.5" y="915.13" width="8.04" height="6.6" class="bar"/><rect x="59.5" y="908.53" width="8.04" height="6.6" class="bar"/><rect x="59.5" y="901.93" width="8.04" height="6.6" class="bar"/><rect x="59.5" y="895.34" width="8.04" height="6.6" class="bar"/><rect x="59.5" y="888.74" width="8.04" height="6.6" class="bar"/><rect x="59.5" y="776.58" width="8.04" height="6.6" class="bar"/><rect x="59.6" y="730.4" width="152.9" height="263.9" class="frame"/><line x1="168.5" y1="730.4" x2="168.5" y2="994.3" class="frame"/><line x1="53.6" y1="994.3" x2="59.6" y2="994.3" class="tick"/><text x="50.8" y="997.7" class="yl">0</text><line x1="53.6" y1="974.51" x2="59.6" y2="974.51" class="tick"/><text x="50.8" y="977.91" class="yl">60</text><line x1="53.6" y1="954.71" x2="59.6" y2="954.71" class="tick"/><text x="50.8" y="958.11" class="yl">120</text><line x1="53.6" y1="934.92" x2="59.6" y2="934.92" class="tick"/><text x="50.8" y="938.32" class="yl">180</text><line x1="53.6" y1="915.13" x2="59.6" y2="915.13" class="tick"/><text x="50.8" y="918.53" class="yl">240</text><line x1="53.6" y1="895.34" x2="59.6" y2="895.34" class="tick"/><text x="50.8" y="898.74" class="yl">300</text><line x1="53.6" y1="875.54" x2="59.6" y2="875.54" class="tick"/><text x="50.8" y="878.94" class="yl">360</text><line x1="53.6" y1="855.75" x2="59.6" y2="855.75" class="tick"/><text x="50.8" y="859.15" class="yl">420</text><line x1="53.6" y1="835.96" x2="59.6" y2="835.96" class="tick"/><text x="50.8" y="839.36" class="yl">480</text><line x1="53.6" y1="816.17" x2="59.6" y2="816.17" class="tick"/><text x="50.8" y="819.57" class="yl">540</text><line x1="53.6" y1="796.38" x2="59.6" y2="796.38" class="tick"/><text x="50.8" y="799.77" class="yl">600</text><line x1="53.6" y1="776.58" x2="59.6" y2="776.58" class="tick"/><text x="50.8" y="779.98" class="yl">660</text><line x1="53.6" y1="756.79" x2="59.6" y2="756.79" class="tick"/><text x="50.8" y="760.19" class="yl">720</text><line x1="53.6" y1="737" x2="59.6" y2="737" class="tick"/><text x="50.8" y="740.4" class="yl">780</text><line x1="59.6" y1="994.3" x2="59.6" y2="1000.3" class="tick"/><text x="59.6" y="1012.6" class="xl">0</text><line x1="91.36" y1="994.3" x2="91.36" y2="1000.3" class="tick"/><text x="91.36" y="1012.6" class="xl">4</text><line x1="123.12" y1="994.3" x2="123.12" y2="1000.3" class="tick"/><text x="123.12" y="1012.6" class="xl">8</text><line x1="154.88" y1="994.3" x2="154.88" y2="1000.3" class="tick"/><text x="154.88" y="1012.6" class="xl">12</text><line x1="75.48" y1="994.3" x2="75.48" y2="997.3" class="tick"/><line x1="107.24" y1="994.3" x2="107.24" y2="997.3" class="tick"/><line x1="139" y1="994.3" x2="139" y2="997.3" class="tick"/><text x="110.6" y="1030.7" class="cases">Cases</text><text x="15.6" y="703.7" class="title" style="font-size:15.4px">7) Pneumonia bacterial</text><text transform="translate(11.9,851.4) rotate(-90)" class="day">Day</text><line x1="190.3" y1="892.4" x2="190.3" y2="942.2" class="bx"/><line x1="181.2" y1="892.4" x2="199.2" y2="892.4" class="bx"/><line x1="190.3" y1="987.8" x2="190.3" y2="993.2" class="bx"/><line x1="181.2" y1="993.2" x2="199.2" y2="993.2" class="bx"/><rect x="181.5" y="942.2" width="17.4" height="45.6" class="bx"/><line x1="181.5" y1="972.9" x2="198.9" y2="972.9" class="bx"/><path d="M184.3 959L189.7 946.5L195.1 959L189.7 971.5Z" class="dm"/><path d="M177.7 973.3H174.4V993.2H177.7" class="rb"/><circle cx="190.1" cy="779.3" r="2.7" class="pt"/></g>
<g><rect x="287" y="987.7" width="94.95" height="6.6" class="bar"/><rect x="287" y="981.1" width="81.4" height="6.6" class="bar"/><rect x="287" y="974.51" width="81.4" height="6.6" class="bar"/><rect x="287" y="967.91" width="40.75" height="6.6" class="bar"/><rect x="287" y="961.31" width="13.65" height="6.6" class="bar"/><rect x="287" y="941.52" width="13.65" height="6.6" class="bar"/><rect x="287" y="934.92" width="13.65" height="6.6" class="bar"/><rect x="287" y="928.32" width="13.65" height="6.6" class="bar"/><rect x="287" y="921.73" width="13.65" height="6.6" class="bar"/><rect x="287" y="901.93" width="13.65" height="6.6" class="bar"/><rect x="287" y="835.96" width="13.65" height="6.6" class="bar"/><rect x="287" y="809.57" width="13.65" height="6.6" class="bar"/><rect x="287" y="776.58" width="13.65" height="6.6" class="bar"/><rect x="287.1" y="730.4" width="152.5" height="263.9" class="frame"/><line x1="395.7" y1="730.4" x2="395.7" y2="994.3" class="frame"/><line x1="281.1" y1="994.3" x2="287.1" y2="994.3" class="tick"/><text x="278.3" y="997.7" class="yl">0</text><line x1="281.1" y1="974.51" x2="287.1" y2="974.51" class="tick"/><text x="278.3" y="977.91" class="yl">60</text><line x1="281.1" y1="954.71" x2="287.1" y2="954.71" class="tick"/><text x="278.3" y="958.11" class="yl">120</text><line x1="281.1" y1="934.92" x2="287.1" y2="934.92" class="tick"/><text x="278.3" y="938.32" class="yl">180</text><line x1="281.1" y1="915.13" x2="287.1" y2="915.13" class="tick"/><text x="278.3" y="918.53" class="yl">240</text><line x1="281.1" y1="895.34" x2="287.1" y2="895.34" class="tick"/><text x="278.3" y="898.74" class="yl">300</text><line x1="281.1" y1="875.54" x2="287.1" y2="875.54" class="tick"/><text x="278.3" y="878.94" class="yl">360</text><line x1="281.1" y1="855.75" x2="287.1" y2="855.75" class="tick"/><text x="278.3" y="859.15" class="yl">420</text><line x1="281.1" y1="835.96" x2="287.1" y2="835.96" class="tick"/><text x="278.3" y="839.36" class="yl">480</text><line x1="281.1" y1="816.17" x2="287.1" y2="816.17" class="tick"/><text x="278.3" y="819.57" class="yl">540</text><line x1="281.1" y1="796.38" x2="287.1" y2="796.38" class="tick"/><text x="278.3" y="799.77" class="yl">600</text><line x1="281.1" y1="776.58" x2="287.1" y2="776.58" class="tick"/><text x="278.3" y="779.98" class="yl">660</text><line x1="281.1" y1="756.79" x2="287.1" y2="756.79" class="tick"/><text x="278.3" y="760.19" class="yl">720</text><line x1="281.1" y1="737" x2="287.1" y2="737" class="tick"/><text x="278.3" y="740.4" class="yl">780</text><line x1="287.1" y1="994.3" x2="287.1" y2="1000.3" class="tick"/><text x="287.1" y="1012.6" class="xl">0</text><line x1="314.2" y1="994.3" x2="314.2" y2="1000.3" class="tick"/><text x="314.2" y="1012.6" class="xl">2</text><line x1="341.3" y1="994.3" x2="341.3" y2="1000.3" class="tick"/><text x="341.3" y="1012.6" class="xl">4</text><line x1="368.4" y1="994.3" x2="368.4" y2="1000.3" class="tick"/><text x="368.4" y="1012.6" class="xl">6</text><line x1="300.65" y1="994.3" x2="300.65" y2="997.3" class="tick"/><line x1="327.75" y1="994.3" x2="327.75" y2="997.3" class="tick"/><line x1="354.85" y1="994.3" x2="354.85" y2="997.3" class="tick"/><line x1="381.95" y1="994.3" x2="381.95" y2="997.3" class="tick"/><text x="338.1" y="1030.7" class="cases">Cases</text><text x="253.9" y="703.7" class="title" style="font-size:15.4px">8) Radiation pneumonitis</text><text transform="translate(242.9,851.4) rotate(-90)" class="day">Day</text><line x1="417.2" y1="907.2" x2="417.2" y2="945.5" class="bx"/><line x1="408.8" y1="907.2" x2="426.8" y2="907.2" class="bx"/><line x1="417.2" y1="986.1" x2="417.2" y2="991.9" class="bx"/><line x1="408.8" y1="991.9" x2="426.8" y2="991.9" class="bx"/><rect x="409.1" y="945.5" width="17.4" height="40.6" class="bx"/><line x1="409.1" y1="979.8" x2="426.5" y2="979.8" class="bx"/><path d="M411.4 957.1L416.9 938.1L422.4 957.1L416.9 976.1Z" class="dm"/><path d="M404.7 979.8H401.4V991.9H404.7" class="rb"/><circle cx="417.2" cy="782" r="2.7" class="pt"/><circle cx="417.2" cy="815.7" r="2.7" class="pt"/><circle cx="417.2" cy="836.5" r="2.7" class="pt"/></g>
<g><rect x="513.3" y="991" width="94.9" height="3.3" class="bar"/><rect x="513.3" y="984.4" width="47.5" height="3.3" class="bar"/><rect x="513.3" y="977.81" width="47.5" height="3.3" class="bar"/><rect x="513.3" y="974.51" width="94.9" height="3.3" class="bar"/><rect x="513.3" y="921.73" width="47.5" height="3.3" class="bar"/><rect x="513.4" y="730.4" width="152.1" height="263.9" class="frame"/><line x1="622" y1="730.4" x2="622" y2="994.3" class="frame"/><line x1="507.4" y1="994.3" x2="513.4" y2="994.3" class="tick"/><text x="504.6" y="997.7" class="yl">0</text><line x1="507.4" y1="974.51" x2="513.4" y2="974.51" class="tick"/><text x="504.6" y="977.91" class="yl">60</text><line x1="507.4" y1="954.71" x2="513.4" y2="954.71" class="tick"/><text x="504.6" y="958.11" class="yl">120</text><line x1="507.4" y1="934.92" x2="513.4" y2="934.92" class="tick"/><text x="504.6" y="938.32" class="yl">180</text><line x1="507.4" y1="915.13" x2="513.4" y2="915.13" class="tick"/><text x="504.6" y="918.53" class="yl">240</text><line x1="507.4" y1="895.34" x2="513.4" y2="895.34" class="tick"/><text x="504.6" y="898.74" class="yl">300</text><line x1="507.4" y1="875.54" x2="513.4" y2="875.54" class="tick"/><text x="504.6" y="878.94" class="yl">360</text><line x1="507.4" y1="855.75" x2="513.4" y2="855.75" class="tick"/><text x="504.6" y="859.15" class="yl">420</text><line x1="507.4" y1="835.96" x2="513.4" y2="835.96" class="tick"/><text x="504.6" y="839.36" class="yl">480</text><line x1="507.4" y1="816.17" x2="513.4" y2="816.17" class="tick"/><text x="504.6" y="819.57" class="yl">540</text><line x1="507.4" y1="796.38" x2="513.4" y2="796.38" class="tick"/><text x="504.6" y="799.77" class="yl">600</text><line x1="507.4" y1="776.58" x2="513.4" y2="776.58" class="tick"/><text x="504.6" y="779.98" class="yl">660</text><line x1="507.4" y1="756.79" x2="513.4" y2="756.79" class="tick"/><text x="504.6" y="760.19" class="yl">720</text><line x1="507.4" y1="737" x2="513.4" y2="737" class="tick"/><text x="504.6" y="740.4" class="yl">780</text><line x1="513.4" y1="994.3" x2="513.4" y2="1000.3" class="tick"/><text x="513.4" y="1012.6" class="xl">0</text><line x1="560.8" y1="994.3" x2="560.8" y2="1000.3" class="tick"/><text x="560.8" y="1012.6" class="xl">1</text><line x1="608.2" y1="994.3" x2="608.2" y2="1000.3" class="tick"/><text x="608.2" y="1012.6" class="xl">2</text><line x1="537.1" y1="994.3" x2="537.1" y2="997.3" class="tick"/><line x1="584.5" y1="994.3" x2="584.5" y2="997.3" class="tick"/><text x="564.4" y="1030.7" class="cases">Cases</text><text x="482.3" y="703.7" class="title" style="font-size:17px;letter-spacing:0.15px">9) Infectious pleural effusion</text><text transform="translate(471.2,851.4) rotate(-90)" class="day">Day</text><line x1="643.5" y1="991.2" x2="643.5" y2="993.4" class="bx"/><line x1="635" y1="993.4" x2="652.7" y2="993.4" class="bx"/><rect x="635.3" y="975.3" width="17.1" height="15.9" class="bx"/><line x1="635.3" y1="979.8" x2="652.4" y2="979.8" class="bx"/><path d="M637.9 973.5L643.5 953.7L649.1 973.5L643.5 993.3Z" class="dm"/><path d="M630.8 975H627.5V985.6H630.8" class="rb"/><circle cx="643.5" cy="923.2" r="2.7" class="pt"/></g>
</svg>
</body></html>
